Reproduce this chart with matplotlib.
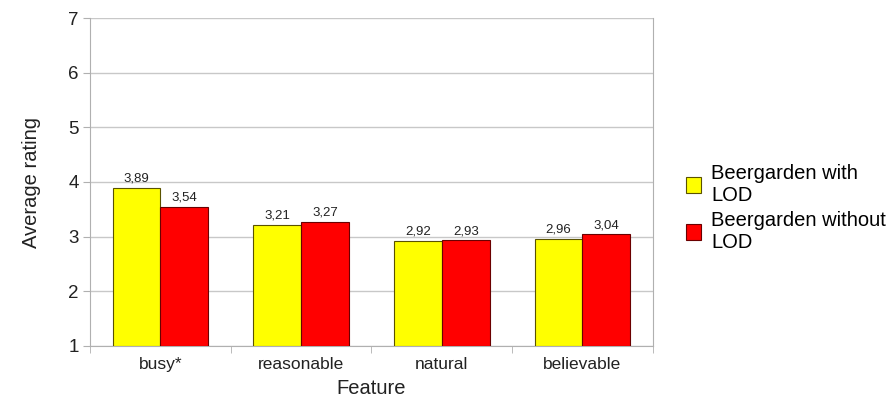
import matplotlib.pyplot as plt
import numpy as np

features = ["busy*", "reasonable", "natural", "believable"]
with_lod = [3.89, 3.21, 2.92, 2.96]
without_lod = [3.54, 3.27, 2.93, 3.04]
series_names = ["Beergarden with\nLOD", "Beergarden without\nLOD"]

plt.rcParams['font.family'] = ['Liberation Sans', 'DejaVu Sans']

fig = plt.figure(figsize=(8.87, 4), dpi=100)
ax = fig.add_axes([0.1015, 0.135, 0.6345, 0.82])

x = np.arange(len(features))
width = 0.34
b1 = ax.bar(x - width / 2, [v - 1 for v in with_lod], width, bottom=1, color='#ffff00',
            edgecolor='#5a5200', linewidth=0.8, label=series_names[0], zorder=3)
b2 = ax.bar(x + width / 2, [v - 1 for v in without_lod], width, bottom=1, color='#ff0000',
            edgecolor='#6a0000', linewidth=0.8, label=series_names[1], zorder=3)

for rects, vals in ((b1, with_lod), (b2, without_lod)):
    for r, v in zip(rects, vals):
        ax.text(r.get_x() + r.get_width() / 2, v + 0.06, ("%.2f" % v).replace('.', ','),
                ha='center', va='bottom', fontsize=9.5, color='#222222')

ax.set_xlim(-0.5, len(features) - 0.5)
ax.set_ylim(1, 7)
ax.set_yticks(range(1, 8))
ax.set_xticks(x)
ax.set_xticklabels(features, fontsize=12.5, color='#222222')
ax.set_xticks(np.arange(-0.5, len(features), 1), minor=True)
ax.tick_params(axis='x', which='major', length=0, pad=8)
ax.tick_params(axis='x', which='minor', length=5, color='#b0b0b0')
ax.tick_params(axis='y', length=5, color='#b0b0b0', labelsize=13.5, pad=3, labelcolor='#222222')
ax.yaxis.grid(True, color='#c8c8c8', linewidth=1, zorder=0)
for s in ax.spines.values():
    s.set_color('#b0b0b0')
ax.spines['top'].set_visible(False)

ax.set_ylabel("Average rating", fontsize=14.5, labelpad=20, color='#222222')
ax.set_xlabel("Feature", fontsize=14.5, labelpad=5, color='#222222')

ax.legend(loc='center left', bbox_to_anchor=(1.045, 0.42), frameon=False, fontsize=14.5,
          handlelength=0.75, handleheight=0.85, handletextpad=0.5, labelspacing=0.3,
          borderaxespad=0)

fig.savefig("out.png", dpi=100)
